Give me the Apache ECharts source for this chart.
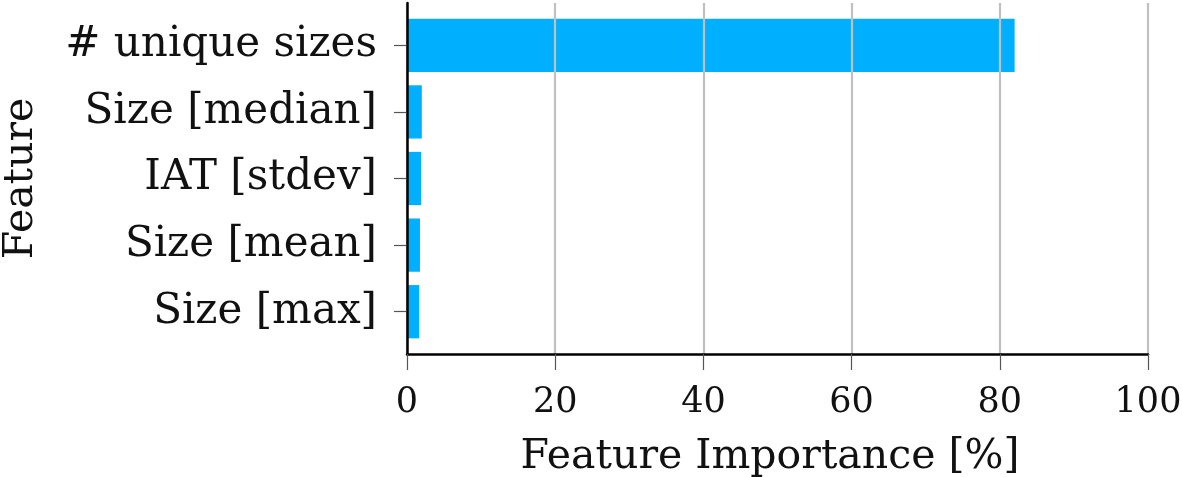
<!DOCTYPE html>
<html>
<head>
<meta charset="utf-8">
<script src="https://cdn.jsdelivr.net/npm/echarts@6/dist/echarts.min.js"></script>
<style>
  html, body { margin: 0; padding: 0; background: #ffffff; }
  #chart { width: 1182px; height: 477px; }
</style>
</head>
<body>
<div id="chart"></div>
<script>
// Feature importance of the top five features (percent)
const features = ['# unique sizes', 'Size [median]', 'IAT [stdev]', 'Size [mean]', 'Size [max]'];
const importance = [82.0, 2.0, 1.9, 1.75, 1.65];
const xTicks = [0, 20, 40, 60, 80, 100];

const FONT = '"DejaVu Serif", serif';
const chart = echarts.init(document.getElementById('chart'), null, { renderer: 'canvas' });

chart.setOption({
  animation: false,
  backgroundColor: '#ffffff',
  grid: [
    // outer frame: spines, x ticks and grid lines
    { left: 407, right: 34, top: 3, bottom: 123, containLabel: false, outerBoundsMode: 'none' },
    // inner band area: bars and category labels
    { left: 407, right: 34, top: 12, bottom: 132, containLabel: false, outerBoundsMode: 'none' }
  ],
  xAxis: [
    {
      gridIndex: 0,
      type: 'value',
      min: xTicks[0],
      max: xTicks[xTicks.length - 1],
      interval: 20,
      z: 10,
      name: 'Feature Importance [%]',
      nameLocation: 'middle',
      nameGap: 83,
      nameTextStyle: { fontFamily: FONT, fontSize: 41, color: '#111', padding: [0, 15, 0, 0] },
      axisLine: { show: true, lineStyle: { color: '#000', width: 2.5 } },
      axisTick: { show: true, length: 16, lineStyle: { color: '#555', width: 1.2 } },
      axisLabel: { fontFamily: FONT, fontSize: 35, color: '#111', margin: 31 },
      splitLine: { show: true, lineStyle: { color: '#c0c0c0', width: 2.2 } }
    },
    {
      gridIndex: 1,
      type: 'value',
      min: 0,
      max: 100,
      show: false
    }
  ],
  yAxis: [
    {
      gridIndex: 0,
      type: 'value',
      min: 0,
      max: 1,
      z: 10,
      name: 'Feature',
      nameLocation: 'middle',
      nameGap: 365,
      nameRotate: 90,
      nameTextStyle: { fontFamily: FONT, fontSize: 41, color: '#111' },
      axisLine: { show: true, lineStyle: { color: '#000', width: 2.5 } },
      axisTick: { show: false },
      axisLabel: { show: false },
      splitLine: { show: false }
    },
    {
      gridIndex: 1,
      type: 'category',
      inverse: true,
      data: features,
      axisLine: { show: false },
      axisTick: { show: true, alignWithLabel: true, length: 13, lineStyle: { color: '#555', width: 1.2 } },
      axisLabel: { fontFamily: FONT, fontSize: 42, color: '#111', margin: 30, padding: [7, 0, 0, 0] },
      splitLine: { show: false }
    }
  ],
  series: [
    {
      type: 'bar',
      xAxisIndex: 1,
      yAxisIndex: 1,
      data: importance,
      barWidth: '80%',
      itemStyle: { color: '#00b0ff' },
      z: 2
    }
  ]
});
</script>
</body>
</html>
